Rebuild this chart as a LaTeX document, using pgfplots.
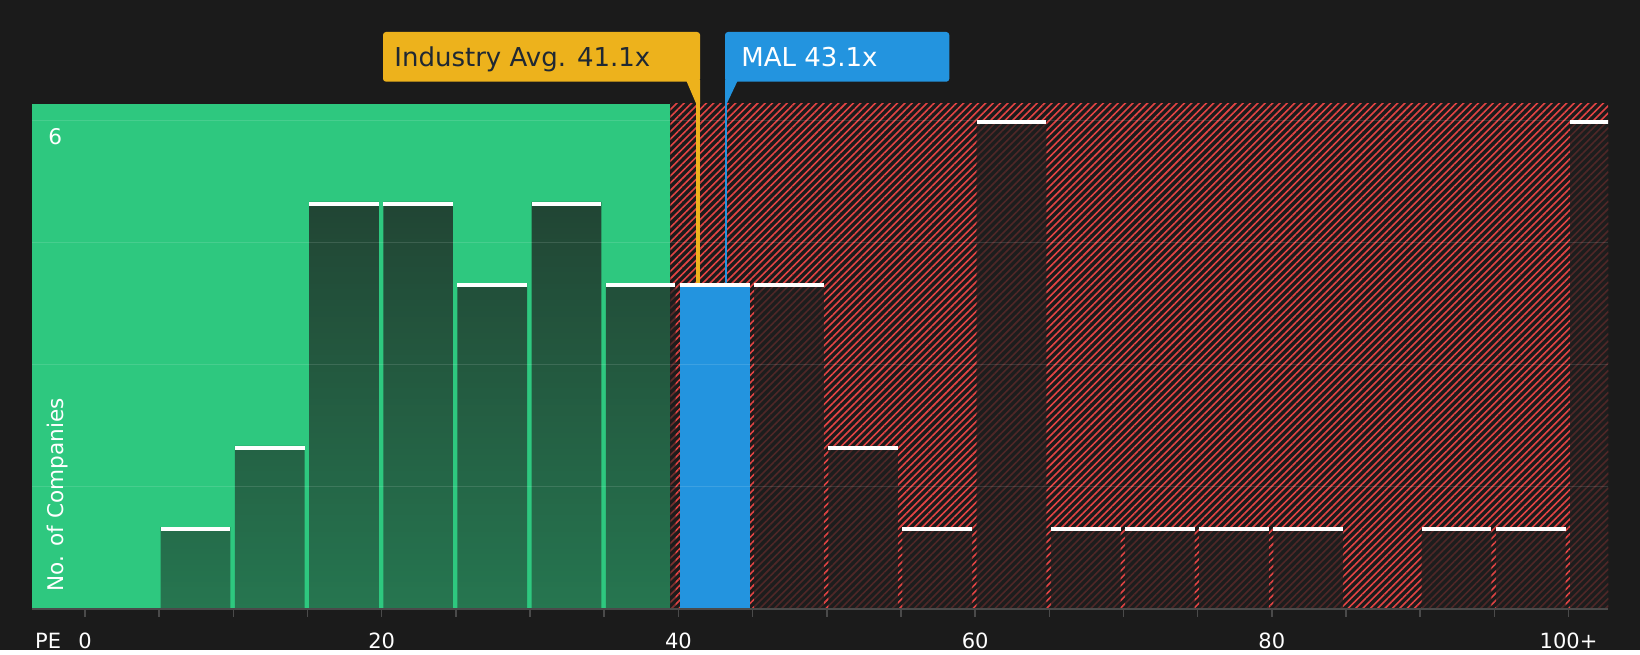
\documentclass[border=0pt]{standalone}
\usepackage{fontspec}
\setmainfont{DejaVu Sans}
\usepackage{pgfplots}
\usepackage{pgfplotstable}
\pgfplotsset{compat=1.18}
\usetikzlibrary{patterns.meta,fadings}
\definecolor{bg}{HTML}{1B1B1B}
\definecolor{pegreen}{HTML}{2EC87F}
\definecolor{hatchred}{HTML}{E34444}
\definecolor{malblue}{HTML}{2394DF}
\definecolor{gold}{HTML}{EDB21C}
\definecolor{goldtext}{HTML}{1F2833}
\definecolor{darkbar}{HTML}{1E1E1E}
\definecolor{axgray}{HTML}{4A4A4A}
\tikzfading[name=barfade, top color=transparent!23, bottom color=transparent!52]

\pgfplotstableread{
bin n
5 1
10 2
15 5
20 5
25 4
30 5
35 4
}\greenbins
\pgfplotstableread{
bin n
40 4
}\malbin
\pgfplotstableread{
bin n
45 4
50 2
55 1
60 6
65 1
70 1
75 1
80 1
85 0
90 1
95 1
100 6
}\redbins

\begin{document}
\begin{tikzpicture}
\fill[bg] (0,0) rectangle (820pt,325pt);
\begin{axis}[
  at={(16pt,20.75pt)}, anchor=south west,
  width=788pt, height=252.25pt, scale only axis,
  xmin=-3.573, xmax=102.66, ymin=0, ymax=6.203,
  axis line style={draw=none},
  xtick={0,20,40,60,80,100},
  xticklabels={0,20,40,60,80,100+},
  minor xtick={5,10,15,25,30,35,45,50,55,65,70,75,85,90,95},
  xtick pos=bottom,
  tick align=outside,
  major tick length=4.25pt, minor tick length=4.25pt,
  tick style={axgray, line width=0.75pt},
  ytick=\empty,
  xticklabel style={font=\fontsize{10.5}{12}\selectfont, text=white, anchor=base, yshift=-15.5pt},
]
% background regions
\fill[pegreen] (axis cs:-3.573,0) rectangle (axis cs:39.45,6.203);
\fill[pattern={Lines[angle=45, distance=2.6pt, line width=0.8pt]}, pattern color=hatchred]
  (axis cs:39.45,0) rectangle (axis cs:102.66,6.203);
% bars
\addplot[ybar, bar width=4.7, bar shift=0pt, draw=none, fill=darkbar, path fading=barfade]
  table[x expr=\thisrow{bin}+2.45, y=n] {\greenbins};
\addplot[ybar, bar width=4.7, bar shift=0pt, draw=none, fill=malblue]
  table[x expr=\thisrow{bin}+2.45, y=n] {\malbin};
\addplot[ybar, bar width=4.7, bar shift=0pt, draw=none, fill=darkbar, fill opacity=0.75]
  table[x expr=\thisrow{bin}+2.45, y=n] {\redbins};
% grid lines
\draw[white, opacity=0.12, line width=0.75pt] (axis cs:-3.573,1.5) -- (axis cs:102.66,1.5);
\draw[white, opacity=0.12, line width=0.75pt] (axis cs:-3.573,3) -- (axis cs:102.66,3);
\draw[white, opacity=0.12, line width=0.75pt] (axis cs:-3.573,4.5) -- (axis cs:102.66,4.5);
\draw[white, opacity=0.12, line width=0.75pt] (axis cs:-3.573,6) -- (axis cs:102.66,6);
% caps
\pgfplotsset{capstyle/.style={draw=none, mark=none, restrict y to domain=0.5:100,
  error bars/.cd, x dir=both, x fixed=2.35, error mark=none,
  error bar style={draw=white, line width=1.85pt}}}
\addplot[capstyle] table[x expr=\thisrow{bin}+2.45, y expr=\thisrow{n}-0.0227] {\greenbins};
\addplot[capstyle] table[x expr=\thisrow{bin}+2.45, y expr=\thisrow{n}-0.0227] {\malbin};
\addplot[capstyle] table[x expr=\thisrow{bin}+2.45, y expr=\thisrow{n}-0.0227] {\redbins};
% marker lines
\draw[gold, line width=1.9pt] (axis cs:41.33,4) -- (axis cs:41.33,6.3);
\draw[malblue, line width=0.8pt] (axis cs:43.19,4) -- (axis cs:43.19,6.3);
\end{axis}
% axis line
\draw[axgray, line width=1pt] (16pt,20.75pt) -- (804pt,20.75pt);
% annotation boxes
\fill[gold, rounded corners=1.5pt] (191.5pt,284.15pt) rectangle (350.05pt,309pt);
\fill[gold] (343pt,285pt) -- (350.05pt,285pt) -- (350.05pt,273pt) -- (348.15pt,273pt) -- cycle;
\node[anchor=base west, inner sep=0, text=goldtext, font=\fontsize{13}{15}\selectfont] at (197pt,291.65pt) {Industry Avg. 41.1x};
\fill[malblue, rounded corners=1.5pt] (362.5pt,284.15pt) rectangle (474.65pt,309pt);
\fill[malblue] (362.5pt,285pt) -- (369pt,285pt) -- (363.3pt,273pt) -- (362.5pt,273pt) -- cycle;
\node[anchor=base west, inner sep=0, text=white, font=\fontsize{13}{15}\selectfont] at (370.5pt,291.65pt) {MAL 43.1x};
% labels
\node[anchor=base west, inner sep=0, text=white, font=\fontsize{10.5}{12}\selectfont] at (17.35pt,1pt) {PE};
\node[anchor=base west, inner sep=0, text=white, font=\fontsize{10.8}{12}\selectfont] at (24pt,252.5pt) {6};
\node[anchor=base west, inner sep=0, text=white, rotate=90, font=\fontsize{10.8}{12}\selectfont] at (31.65pt,29pt) {No. of Companies};
\end{tikzpicture}
\end{document}
